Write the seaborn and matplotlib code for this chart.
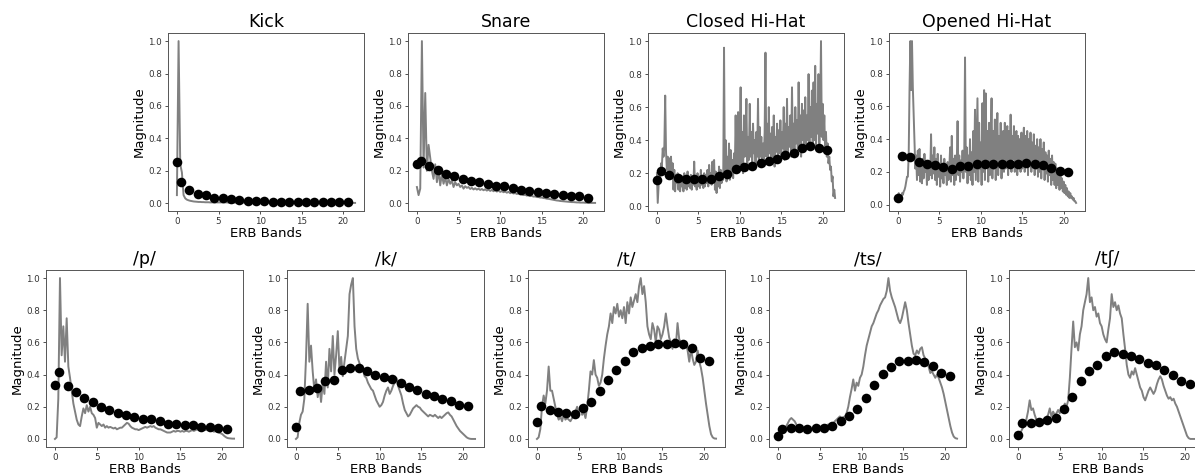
import numpy as np
import matplotlib
matplotlib.use("Agg")
import matplotlib.pyplot as plt
import seaborn as sns

# ---------------- data ----------------
erb_x = [0, 0.5, 1.5, 2.5, 3.5, 4.5, 5.5, 6.5, 7.5, 8.5, 9.5, 10.5,
         11.5, 12.5, 13.5, 14.5, 15.5, 16.5, 17.5, 18.5, 19.5, 20.5]

# band means (black dots)
kick_dots = [0.255, 0.13, 0.083, 0.058, 0.048, 0.035, 0.031, 0.027, 0.021, 0.015, 0.015,
             0.015, 0.01, 0.01, 0.01, 0.005, 0.005, 0.005, 0.005, 0.005, 0.005, 0.005]
snare_dots = [0.24, 0.259, 0.228, 0.205, 0.182, 0.167, 0.152, 0.14, 0.129, 0.119, 0.109,
              0.104, 0.094, 0.083, 0.077, 0.071, 0.063, 0.056, 0.052, 0.046, 0.042, 0.035]
chh_dots = [0.16, 0.215, 0.188, 0.173, 0.167, 0.163, 0.163, 0.165, 0.184, 0.194, 0.223,
            0.236, 0.246, 0.263, 0.273, 0.284, 0.309, 0.324, 0.351, 0.365, 0.351, 0.342]
ohh_dots = [0.042, 0.294, 0.29, 0.263, 0.25, 0.242, 0.228, 0.22, 0.238, 0.236, 0.248,
            0.25, 0.25, 0.25, 0.25, 0.25, 0.257, 0.246, 0.242, 0.225, 0.205, 0.20]
p_dots = [0.337, 0.414, 0.326, 0.291, 0.257, 0.228, 0.199, 0.178, 0.163, 0.151, 0.134,
          0.126, 0.121, 0.111, 0.096, 0.092, 0.088, 0.084, 0.077, 0.073, 0.069, 0.063]
k_dots = [0.077, 0.30, 0.305, 0.314, 0.358, 0.364, 0.431, 0.444, 0.444, 0.42, 0.40,
          0.385, 0.372, 0.347, 0.324, 0.305, 0.282, 0.268, 0.251, 0.236, 0.209, 0.203]
t_dots = [0.103, 0.203, 0.182, 0.169, 0.161, 0.157, 0.192, 0.228, 0.295, 0.366, 0.431,
          0.485, 0.542, 0.563, 0.579, 0.59, 0.59, 0.594, 0.592, 0.563, 0.506, 0.485]
ts_dots = [0.019, 0.061, 0.065, 0.065, 0.061, 0.065, 0.071, 0.082, 0.109, 0.144, 0.188,
           0.255, 0.335, 0.406, 0.448, 0.483, 0.483, 0.49, 0.479, 0.452, 0.408, 0.389]
tsh_dots = [0.027, 0.098, 0.098, 0.107, 0.117, 0.128, 0.186, 0.262, 0.362, 0.425, 0.462,
            0.513, 0.542, 0.531, 0.517, 0.496, 0.475, 0.458, 0.431, 0.40, 0.36, 0.343]

# spectra (grey lines), thousandths of max magnitude
kick_spec = [50, 1000, 240, 190, 50, 30, 22, 18, 15, 13, 11, 10, 9, 8, 8, 7, 7, 6, 6, 6, 5,
             5, 5, 5, 5, 5, 5, 5, 5, 5, 5,
             4, 4, 4, 4, 4, 4, 4, 4, 4, 4, 4, 4, 4, 4, 4, 4, 4, 4, 4, 4,
             3, 3, 3, 3, 3, 3, 3, 3, 3, 3, 3, 3, 3, 3, 3, 3, 3, 3, 3, 3, 3, 3, 3, 3, 3, 3, 3, 3, 3, 3,
             2, 2, 2, 2, 2, 2, 2, 2, 2, 2, 2, 2, 2, 2, 2, 2, 2, 2, 2, 2, 2, 2, 2, 2, 2, 2, 2]
snare_spec = [100, 50, 90, 1000, 220, 680, 200, 360, 280, 200,
              150, 240, 130, 200, 110, 180, 120, 160, 110, 150,
              120, 140, 100, 130, 110, 120, 100, 110, 90, 105,
              95, 100, 88, 95, 85, 92, 84, 90, 82, 88,
              80, 86, 78, 84, 76, 82, 74, 80, 72, 78,
              70, 75, 68, 72, 65, 70, 62, 66, 60, 63,
              57, 60, 54, 56, 50, 52, 47, 49, 44, 45,
              41, 42, 38, 38, 35, 35, 32, 31, 28, 27,
              25, 23, 21, 19, 17, 16, 14, 13, 12, 11,
              10, 9, 8, 7, 7, 6, 5, 5, 4, 4,
              4, 3, 3, 3, 2, 2, 2, 2]
chh_spec = [200, 20, 120, 220, 180, 260, 240, 350, 300, 370,
            670, 330, 220, 300, 200, 290, 180, 300, 190, 260,
            100, 220, 90, 190, 140, 200, 100, 180, 90, 160,
            120, 180, 90, 200, 110, 170, 100, 210, 120, 160,
            110, 190, 100, 170, 130, 270, 120, 180, 100, 200,
            120, 170, 110, 220, 130, 180, 110, 200, 120, 190,
            140, 220, 120, 250, 150, 200, 130, 270, 160, 280,
            100, 210, 80, 180, 120, 240, 110, 220, 140, 200,
            160, 960, 180, 400, 150, 300, 200, 380, 160, 340,
            200, 280, 170, 320, 220, 550, 250, 380, 570, 220,
            400, 720, 250, 450, 200, 550, 300, 420, 650, 240,
            420, 280, 620, 300, 450, 220, 500, 320, 400, 250,
            450, 300, 650, 260, 480, 300, 420, 240, 380, 280,
            450, 930, 300, 500, 270, 600, 320, 440, 260, 480,
            300, 550, 240, 420, 330, 500, 280, 460, 320, 520,
            300, 450, 350, 600, 280, 500, 340, 650, 300, 480,
            360, 550, 300, 720, 350, 500, 320, 600, 380, 520,
            340, 750, 360, 550, 300, 620, 400, 580, 330, 660,
            360, 550, 400, 800, 350, 600, 420, 700, 380, 750,
            400, 850, 350, 620, 440, 800, 380, 580, 1000, 420,
            620, 400, 550, 330, 450, 300, 380, 260, 300, 220,
            240, 150, 180, 60, 100, 50]
ohh_spec = [50, 70, 30, 60, 40, 70, 60, 80, 90, 110,
            140, 170, 170, 300, 700, 1000, 700, 1000, 720, 550,
            400, 220, 300, 150, 330, 180, 340, 140, 250, 130,
            280, 160, 310, 200, 260, 120, 240, 150, 220, 180,
            430, 160, 300, 190, 350, 150, 280, 120, 310, 170,
            250, 110, 300, 160, 220, 130, 280, 180, 240, 120,
            260, 150, 220, 350, 140, 420, 180, 280, 120, 300,
            150, 250, 510, 180, 300, 140, 270, 200, 330, 160,
            280, 900, 200, 350, 130, 300, 180, 400, 150, 320,
            120, 450, 200, 580, 150, 400, 650, 140, 500, 220,
            380, 120, 620, 200, 700, 150, 680, 250, 450, 140,
            500, 180, 400, 650, 160, 450, 220, 520, 150, 380,
            560, 180, 420, 250, 500, 160, 360, 450, 200, 500,
            220, 400, 480, 180, 450, 250, 550, 200, 420, 280,
            480, 200, 380, 450, 180, 420, 240, 400, 200, 440,
            220, 380, 470, 200, 420, 260, 450, 180, 400, 250,
            440, 200, 380, 240, 430, 180, 360, 220, 400, 170,
            350, 200, 400, 160, 340, 220, 380, 150, 320, 190,
            300, 140, 330, 180, 280, 120, 300, 150, 260, 120,
            250, 100, 220, 120, 200, 90, 180, 100, 160, 80,
            140, 70, 120, 60, 100, 50, 80, 40, 70, 40,
            50, 30, 40, 20, 20, 10]
p_spec = [0, 10, 250, 1000, 520, 700, 480, 750, 450, 380,
          300, 220, 170, 120, 90, 80, 140, 190, 160, 210,
          170, 200, 160, 150, 130, 70, 100, 90, 80, 90,
          70, 80, 70, 75, 70, 65, 70, 60, 65, 70,
          70, 80, 90, 100, 95, 80, 70, 65, 60, 60,
          55, 60, 65, 70, 75, 70, 75, 80, 75, 80,
          70, 65, 60, 60, 55, 50, 45, 40, 40, 40,
          45, 50, 45, 50, 50, 45, 50, 45, 50, 50,
          45, 50, 55, 50, 55, 60, 55, 50, 55, 60,
          55, 60, 55, 50, 50, 45, 50, 45, 40, 35,
          30, 20, 12, 6, 4, 3, 2, 2]
k_spec = [0, 10, 100, 150, 170, 250, 500, 840, 480, 580,
          420, 300, 370, 260, 330, 230, 350, 280, 480, 320,
          560, 420, 640, 400, 520, 670, 430, 510, 390, 480,
          560, 640, 900, 960, 1000, 700, 560, 500, 470, 440,
          430, 390, 380, 350, 330, 310, 300, 270, 240, 220,
          200, 210, 230, 270, 300, 320, 280, 300, 330, 350,
          380, 330, 300, 270, 220, 180, 160, 140, 150, 170,
          190, 200, 210, 200, 195, 180, 170, 160, 150, 140,
          150, 145, 140, 150, 140, 130, 140, 130, 140, 150,
          160, 165, 150, 140, 120, 100, 80, 65, 50, 40,
          30, 20, 10, 4, 1, 0, 0, 0]
t_spec = [0, 10, 60, 200, 270, 220, 300, 450, 300, 300,
          250, 200, 150, 120, 140, 110, 150, 120, 130, 120,
          110, 130, 140, 170, 200, 160, 200, 150, 170, 130,
          200, 300, 420, 400, 490, 400, 380, 330, 350, 400,
          500, 580, 650, 700, 780, 720, 820, 780, 840, 760,
          800, 750, 820, 720, 850, 780, 880, 820, 860, 900,
          850, 950, 1000, 900, 950, 850, 700, 650, 620, 720,
          680, 600, 700, 680, 620, 650, 700, 780, 700, 630,
          600, 560, 620, 580, 720, 620, 600, 560, 580, 600,
          550, 480, 560, 500, 460, 480, 550, 480, 440, 380,
          300, 220, 150, 80, 30, 10, 3, 2]
ts_spec = [0, 20, 40, 50, 60, 80, 100, 120, 130, 120,
           110, 90, 80, 70, 65, 60, 65, 60, 62, 58,
           62, 60, 65, 62, 68, 70, 75, 80, 78, 85,
           90, 88, 100, 95, 110, 120, 130, 140, 125, 135,
           140, 160, 200, 260, 310, 370, 300, 350, 330, 380,
           400, 450, 520, 580, 620, 660, 700, 720, 750, 780,
           800, 830, 850, 870, 880, 920, 1000, 920, 880, 850,
           820, 780, 740, 720, 750, 800, 850, 800, 720, 650,
           580, 530, 520, 550, 530, 560, 570, 520, 500, 490,
           450, 410, 420, 400, 380, 400, 380, 350, 320, 280,
           230, 180, 130, 80, 40, 15, 5, 2]
tsh_spec = [0, 20, 50, 70, 100, 120, 170, 240, 180, 190,
            150, 120, 100, 110, 105, 120, 125, 130, 150, 190,
            140, 170, 150, 160, 180, 160, 200, 190, 220, 200,
            240, 380, 560, 730, 570, 600, 550, 650, 700, 800,
            850, 900, 1000, 850, 880, 800, 820, 760, 780, 720,
            700, 650, 620, 600, 680, 750, 900, 820, 850, 800,
            830, 780, 750, 650, 560, 460, 400, 380, 420, 400,
            440, 400, 360, 320, 300, 260, 240, 270, 300, 320,
            300, 280, 300, 340, 370, 390, 370, 330, 300, 270,
            250, 260, 240, 250, 220, 200, 170, 140, 110, 80,
            50, 20, 5, 0, 0, 0, 0, 0]

titles_top = ["Kick", "Snare", "Closed Hi-Hat", "Opened Hi-Hat"]
titles_bottom = ["/p/", "/k/", "/t/", "/ts/", "/t\u0283/"]

panels_top = [(kick_spec, kick_dots), (snare_spec, snare_dots),
              (chh_spec, chh_dots), (ohh_spec, ohh_dots)]
panels_bottom = [(p_spec, p_dots), (k_spec, k_dots), (t_spec, t_dots),
                 (ts_spec, ts_dots), (tsh_spec, tsh_dots)]

# ---------------- figure ----------------
plt.rcParams['font.family'] = ['DejaVu Sans']
W, H = 1195, 475
fig = plt.figure(figsize=(W / 100, H / 100), dpi=100)


def draw(ax, spec, dots, title):
    n = len(spec)
    xs = np.linspace(0, 21.4 if n < 200 else 21.5, n)
    ys = np.array(spec) / 1000.0
    sns.lineplot(x=xs, y=ys, ax=ax, color='#808080', lw=1.4,
                 estimator=None, sort=False, zorder=2)
    sns.scatterplot(x=erb_x, y=dots, ax=ax, color='black', s=48,
                    edgecolor='black', linewidth=0, zorder=3)
    ax.set_title(title, fontsize=12.5, pad=4)
    ax.set_xlabel("ERB Bands", fontsize=9.5, labelpad=1)
    ax.set_ylabel("Magnitude", fontsize=9.5, labelpad=2)
    ax.set_xticks([0, 5, 10, 15, 20])
    ax.set_yticks([0.0, 0.2, 0.4, 0.6, 0.8, 1.0])
    ax.tick_params(labelsize=6.3, length=2.2, width=0.6, pad=2,
                   colors='#333333')
    for sp in ax.spines.values():
        sp.set_linewidth(0.7)
        sp.set_color('#555555')


top_left = [168, 408, 648, 889]
for (spec, dots), title, lp in zip(panels_top, titles_top, top_left):
    ax = fig.add_axes([lp / W, (H - 211) / H, 196 / W, 178 / H])
    draw(ax, spec, dots, title)

bottom_left = [46, 287, 528, 769, 1009]
for (spec, dots), title, lp in zip(panels_bottom, titles_bottom, bottom_left):
    ax = fig.add_axes([lp / W, (H - 447) / H, 197 / W, 177 / H])
    draw(ax, spec, dots, title)

fig.savefig("out.png", dpi=100, facecolor='white')
